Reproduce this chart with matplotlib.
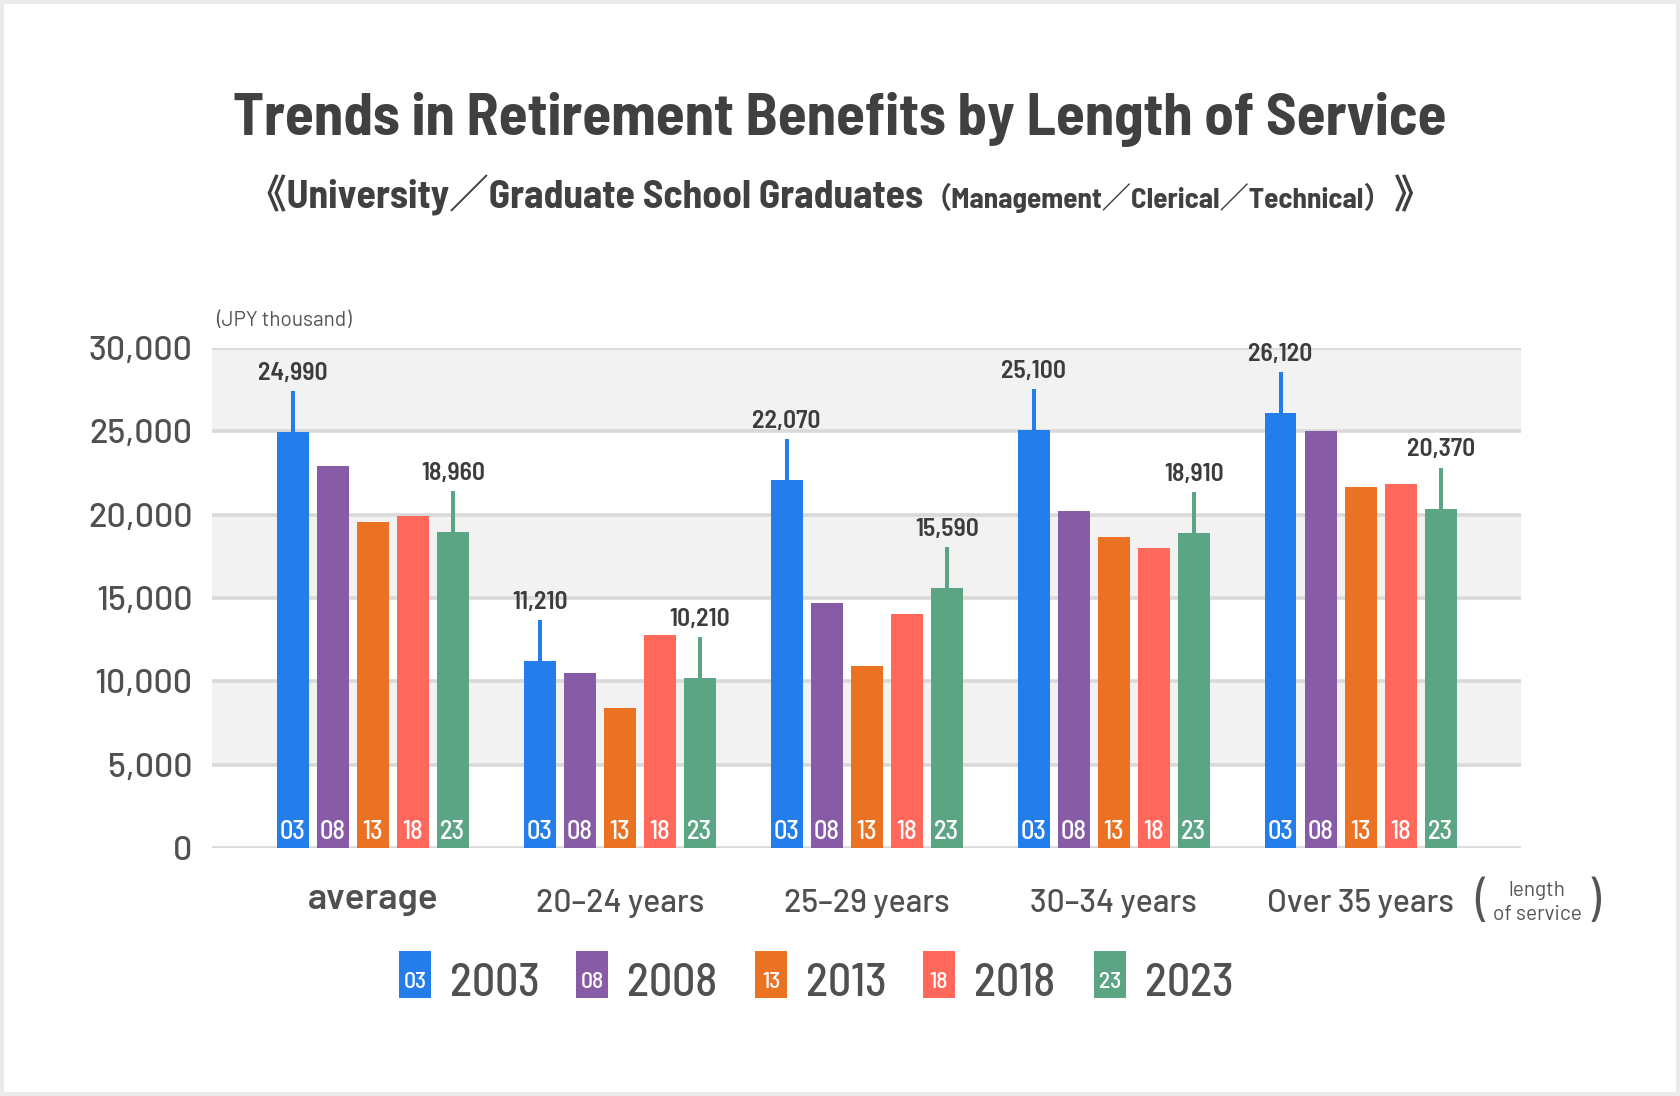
import numpy as np
import matplotlib
matplotlib.use("Agg")
import matplotlib.pyplot as plt
from matplotlib.patches import Rectangle
import matplotlib.transforms as mtransforms

# ---------------- data ----------------
categories = ["average", "20–24 years", "25–29 years", "30–34 years", "Over 35 years"]
years = ["2003", "2008", "2013", "2018", "2023"]
short_years = ["03", "08", "13", "18", "23"]
v2003 = [24990, 11210, 22070, 25100, 26120]
v2008 = [22920, 10500, 14690, 20220, 25020]
v2013 = [19540, 8380, 10940, 18640, 21680]
v2018 = [19940, 12770, 14070, 18000, 21860]
v2023 = [18960, 10210, 15590, 18910, 20370]
yticks = [0, 5000, 10000, 15000, 20000, 25000, 30000]

series = [v2003, v2008, v2013, v2018, v2023]
colors = ["#237DEB", "#875BA5", "#EB7123", "#FF685B", "#5BA584"]

SC = ["Barlow Semi Condensed", "Noto Sans CJK JP", "DejaVu Sans"]
NW = ["Barlow", "Noto Sans CJK JP", "DejaVu Sans"]
plt.rcParams["font.family"] = SC

W, H = 1680, 1096
fig = plt.figure(figsize=(W / 100, H / 100), dpi=100)
fig.patch.set_facecolor("#ebebeb")
fig.add_artist(Rectangle((4 / W, 4 / H), 1 - 8 / W, 1 - 8 / H, transform=fig.transFigure,
                         facecolor="white", edgecolor="none", zorder=-10))

ax = fig.add_axes([212 / W, 1 - 848 / H, (1521 - 212) / W, 500 / H])
ax.patch.set_visible(False)
ax.set_xlim(-0.651, 4.649)
ax.set_ylim(0, 30000)
for s in ax.spines.values():
    s.set_visible(False)

# bands and grid
for lo in range(5000, 30000, 10000):
    ax.axhspan(lo, lo + 5000, color="#f2f2f2", lw=0, zorder=0)
for t in yticks:
    ax.axhline(t, color="#d9d9d9", lw=2.6, zorder=1)

ax.set_yticks(yticks)
ax.set_yticklabels([f"{t:,}" for t in yticks], fontsize=24.5, color="#505050",
                   fontweight="medium", family=NW)
ax.tick_params(axis="y", length=0, pad=14)
ax.set_xticks([])

x = np.arange(len(categories))
width = 0.128
step = 0.162
whisk = 2460
for j, (vals, col) in enumerate(zip(series, colors)):
    xs = x + (j - 2) * step
    ax.bar(xs, vals, width=width, color=col, zorder=3, lw=0)
    for xi, v in zip(xs, vals):
        ax.annotate(short_years[j], (xi, 0), xytext=(0, 9), textcoords="offset pixels",
                    ha="center", va="baseline", fontsize=19, fontweight="medium",
                    color="white", zorder=5)
        if j in (0, 4):
            ax.plot([xi, xi], [v, v + whisk], color=col, lw=2.9, zorder=2, solid_capstyle="butt")
            ax.annotate(f"{v:,}", (xi, v + whisk), xytext=(0, 11), textcoords="offset pixels",
                        ha="center", va="baseline", fontsize=18.5, fontweight="semibold",
                        color="#3c3c3c", zorder=5)

# category labels
btr = mtransforms.blended_transform_factory(ax.transData, ax.transAxes)
for i, c in enumerate(categories):
    if i == 0:
        ax.text(i, -0.104, c, transform=btr, ha="center", va="center", fontsize=26.5,
                fontweight="semibold", color="#505050", family=NW)
    else:
        ax.text(i, -0.112, c, transform=btr, ha="center", va="center", fontsize=23,
                fontweight="medium", color="#505050", family=NW)

# (length of service)
fig.text(1482 / W, 1 - 903 / H, "(", fontsize=38, color="#555555", ha="center", va="center",
         fontweight="regular", family=NW)
fig.text(1593 / W, 1 - 903 / H, ")", fontsize=38, color="#555555", ha="center", va="center",
         fontweight="regular", family=NW)
fig.text(1537 / W, 1 - 890 / H, "length", fontsize=15, color="#555555", ha="center", va="center",
         family=NW)
fig.text(1537 / W, 1 - 915 / H, "of service", fontsize=15, color="#555555", ha="center",
         va="center", family=NW)

# unit
fig.text(216 / W, 1 - 321 / H, "(JPY thousand)", fontsize=15, color="#555555", ha="left",
         va="center", family=NW)

# legend
sq_x = [399, 576, 755, 923, 1094]
for j in range(5):
    fig.add_artist(Rectangle((sq_x[j] / W, 1 - 998 / H), 32 / W, 47 / H, transform=fig.transFigure,
                             facecolor=colors[j], edgecolor="none"))
    fig.text((sq_x[j] + 16) / W, 1 - 988 / H, short_years[j], fontsize=17, color="white",
             ha="center", va="baseline", fontweight="medium")
    fig.text((sq_x[j] + 51) / W, 1 - 996 / H, years[j], fontsize=33, color="#505050",
             ha="left", va="baseline", fontweight="medium")

# title
fig.text(0.5, 1 - 135 / H, "Trends in Retirement Benefits by Length of Service", fontsize=42.5,
         fontweight="bold", color="#404040", ha="center", va="baseline")

# subtitle built from pieces
fig.canvas.draw()
r = fig.canvas.get_renderer()
pieces = [("《University／Graduate School Graduates", 28.5),
          ("（Management／Clerical／Technical）", 21), ("》", 28.5)]
objs = []
for txt, fs in pieces:
    t = fig.text(0, 1 - 208 / H, txt, fontsize=fs, fontweight="bold", color="#404040",
                 ha="left", va="baseline")
    objs.append(t)
widths = [t.get_window_extent(renderer=r).width for t in objs]
start = W / 2 - sum(widths) / 2
for t, w in zip(objs, widths):
    t.set_x(start / W)
    start += w

fig.savefig("out.png", dpi=100, facecolor=fig.get_facecolor())
